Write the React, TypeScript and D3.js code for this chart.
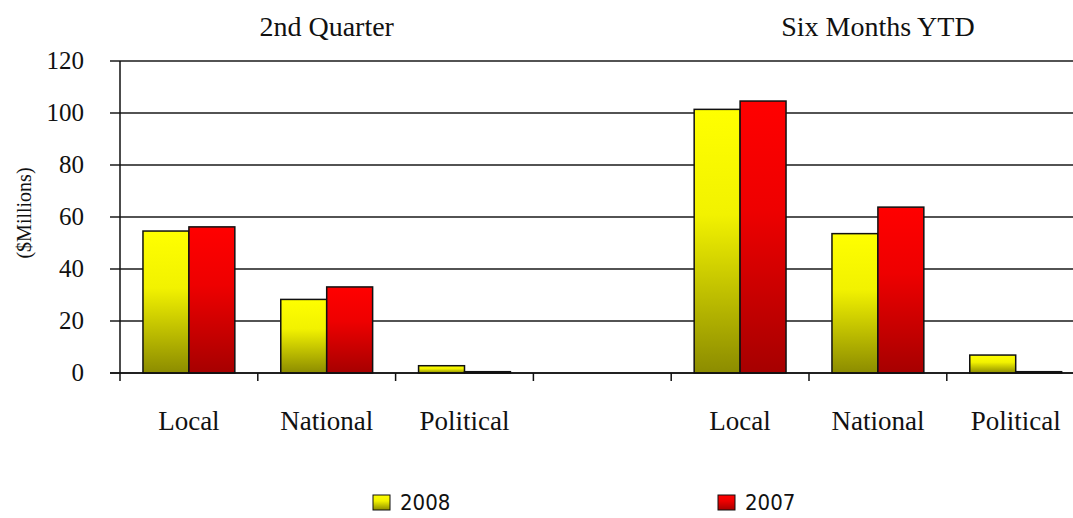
import React from "react";
import * as d3 from "d3";

const categories = ["Local", "National", "Political", "", "Local", "National", "Political"];
const series2008 = [54.6, 28.3, 2.8, null, 101.4, 53.6, 6.9];
const series2007 = [56.2, 33.1, 0.5, null, 104.6, 63.8, 0.5];
const yTicks = [0, 20, 40, 60, 80, 100, 120];
const groupTitles = [
  { label: "2nd Quarter", from: 0, to: 3 },
  { label: "Six Months YTD", from: 4, to: 7 },
];
const legendItems = [
  { label: "2008", grad: "gY", x: 373 },
  { label: "2007", grad: "gR", x: 718 },
];

const W = 1073;
const H = 518;
const left = 120;
const bandW = 137.8;
const y0 = 373;
const yTop = 61;

export default function App() {
  const x = d3
    .scaleBand<number>()
    .domain(d3.range(categories.length))
    .range([left, left + bandW * categories.length])
    .paddingInner(0)
    .paddingOuter(0);
  const y = d3.scaleLinear().domain([0, 120]).range([y0, yTop]);
  const bw = x.bandwidth();
  const barW = bw / 3;
  const serif = "'Liberation Serif', 'Times New Roman', serif";

  return (
    <svg
      width={W}
      height={H}
      style={{ position: "absolute", left: 0, top: 0, background: "#fff" }}
    >
      <defs>
        <linearGradient id="gY" x1="0" y1="0" x2="0" y2="1">
          <stop offset="0" stopColor="#ffff00" />
          <stop offset="0.4" stopColor="#f2f200" />
          <stop offset="1" stopColor="#8c8c00" />
        </linearGradient>
        <linearGradient id="gR" x1="0" y1="0" x2="0" y2="1">
          <stop offset="0" stopColor="#ff0000" />
          <stop offset="0.4" stopColor="#ee0000" />
          <stop offset="1" stopColor="#a60000" />
        </linearGradient>
      </defs>

      {/* gridlines */}
      {yTicks.map((t) => (
        <line
          key={"g" + t}
          x1={110}
          x2={W}
          y1={y(t)}
          y2={y(t)}
          stroke="#1a1a1a"
          strokeWidth={1.5}
        />
      ))}
      {/* y tick labels */}
      {yTicks.map((t) => (
        <text
          key={"t" + t}
          x={84}
          y={y(t) + 8}
          textAnchor="end"
          fontFamily={serif}
          fontSize={25}
          fill="#111"
        >
          {t}
        </text>
      ))}
      {/* y axis label */}
      <text
        transform={`translate(31,213) rotate(-90)`}
        textAnchor="middle"
        fontFamily={serif}
        fontSize={20}
        fill="#111"
      >
        ($Millions)
      </text>

      {/* bars */}
      {categories.map((c, i) => {
        const bx = x(i)! + bw / 6;
        const v8 = series2008[i];
        const v7 = series2007[i];
        return (
          <g key={"b" + i}>
            {v8 != null && (
              <rect
                x={bx}
                y={y(v8)}
                width={barW}
                height={y0 - y(v8)}
                fill="url(#gY)"
                stroke="#111"
                strokeWidth={1.5}
              />
            )}
            {v7 != null && (
              <rect
                x={bx + barW}
                y={y(v7)}
                width={barW}
                height={y0 - y(v7)}
                fill="url(#gR)"
                stroke="#111"
                strokeWidth={1.5}
              />
            )}
          </g>
        );
      })}

      {/* axes */}
      <line x1={left} x2={left} y1={yTop} y2={381} stroke="#111" strokeWidth={1.5} />
      <line x1={110} x2={W} y1={y0} y2={y0} stroke="#111" strokeWidth={1.5} />
      {d3.range(1, categories.length + 1).map((i) => (
        <line
          key={"xt" + i}
          x1={left + bandW * i}
          x2={left + bandW * i}
          y1={y0}
          y2={381}
          stroke="#111"
          strokeWidth={1.5}
        />
      ))}
      {categories.map((c, i) => (
        <text
          key={"c" + i}
          x={x(i)! + bw / 2}
          y={430}
          textAnchor="middle"
          fontFamily={serif}
          fontSize={27}
          fill="#111"
        >
          {c}
        </text>
      ))}

      {/* group titles */}
      {groupTitles.map((g) => (
        <text
          key={g.label}
          x={(x(g.from)! + left + bandW * g.to) / 2}
          y={36}
          textAnchor="middle"
          fontFamily={serif}
          fontSize={28}
          fill="#111"
        >
          {g.label}
        </text>
      ))}

      {/* legend */}
      {legendItems.map((l) => (
        <g key={l.label}>
          <rect
            x={l.x}
            y={495}
            width={17}
            height={15}
            fill={`url(#${l.grad})`}
            stroke="#111"
            strokeWidth={1}
          />
          <text
            x={l.x + 27}
            y={510}
            fontFamily="'DejaVu Sans Condensed', 'DejaVu Sans', sans-serif"
            fontStretch="condensed"
            fontSize={22}
            fill="#111"
          >
            {l.label}
          </text>
        </g>
      ))}
    </svg>
  );
}
